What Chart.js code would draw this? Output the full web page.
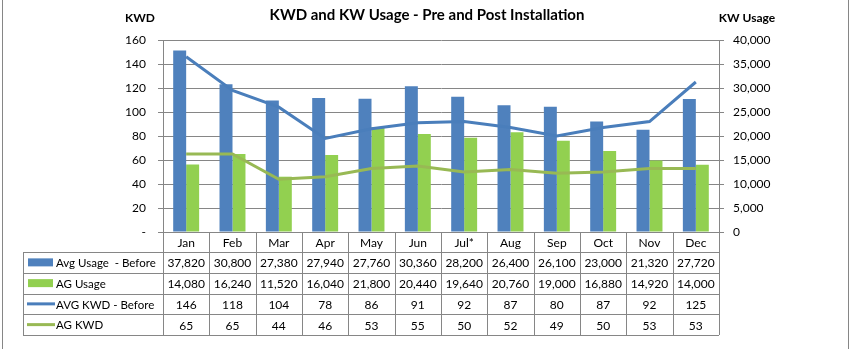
<!DOCTYPE html>
<html>
<head>
<meta charset="utf-8">
<script src="https://cdn.jsdelivr.net/npm/chart.js"></script>
<style>
  body { margin: 0; background: #fff; }
  canvas { display: block; }
</style>
</head>
<body>
<canvas id="grafico" width="852" height="349"></canvas>
<script>
// datos por mes
const meses = ["Jan", "Feb", "Mar", "Apr", "May", "Jun", "Jul*", "Aug", "Sep", "Oct", "Nov", "Dec"]
const usoAntes = [37820, 30800, 27380, 27940, 27760, 30360, 28200, 26400, 26100, 23000, 21320, 27720]
const usoAG = [14080, 16240, 11520, 16040, 21800, 20440, 19640, 20760, 19000, 16880, 14920, 14000]
const kwdAntes = [146, 118, 104, 78, 86, 91, 92, 87, 80, 87, 92, 125]
const kwdAG = [65, 65, 44, 46, 53, 55, 50, 52, 49, 50, 53, 53]

const AZUL = "#4F81BD"
const VERDE = "#92D050"
const AZUL_LINEA = "#4A7EBB"
const VERDE_LINEA = "#98B954"
const GRIS = "#868686"
const FUENTE = "Lato, 'Open Sans', sans-serif"

const filas = [
    { label: "Avg Usage  - Before", data: usoAntes, tipo: "barra", color: AZUL },
    { label: "AG Usage", data: usoAG, tipo: "barra", color: VERDE },
    { label: "AVG KWD - Before", data: kwdAntes, tipo: "linea", color: AZUL_LINEA },
    { label: "AG KWD", data: kwdAG, tipo: "linea", color: VERDE_LINEA },
]

function formato(n) {
    return n.toLocaleString("en-US")
}

// tabla de datos debajo del grafico y textos de cabecera
const tablaPlugin = {
    id: "tabla",
    afterDraw(chart) {
        const ctx = chart.ctx
        const x = chart.scales.x
        const area = chart.chartArea
        const izq = 23
        const ancho = (area.right - area.left) / meses.length
        const arriba = area.bottom
        const altoCab = 20
        const altoFila = 20.75
        const abajo = arriba + altoCab + altoFila * filas.length

        ctx.save()
        ctx.strokeStyle = GRIS
        ctx.lineWidth = 1

        // lineas horizontales
        ctx.beginPath()
        ctx.moveTo(area.left, arriba + 0.5)
        ctx.lineTo(area.right, arriba + 0.5)
        for (let i = 0; i <= filas.length; i++) {
            const y = Math.round(arriba + altoCab + i * altoFila) + 0.5
            ctx.moveTo(izq, y)
            ctx.lineTo(area.right, y)
        }
        // lineas verticales
        for (let i = 0; i <= meses.length; i++) {
            const xx = Math.round(area.left + i * ancho) + 0.5
            ctx.moveTo(xx, arriba)
            ctx.lineTo(xx, abajo)
        }
        ctx.moveTo(izq + 0.5, Math.round(arriba + altoCab))
        ctx.lineTo(izq + 0.5, abajo)
        // borde exterior
        ctx.moveTo(2.5, 0)
        ctx.lineTo(2.5, chart.height)
        ctx.moveTo(848.5, 0)
        ctx.lineTo(848.5, chart.height)
        ctx.stroke()

        ctx.fillStyle = "#000"
        ctx.font = "12px " + FUENTE
        ctx.textAlign = "center"
        ctx.textBaseline = "middle"
        meses.forEach((m, i) => {
            const cx = x.getPixelForValue(i)
            ctx.fillText(m, cx, arriba + altoCab / 2 + 1)
            filas.forEach((f, j) => {
                const cy = arriba + altoCab + (j + 0.5) * altoFila + 1
                ctx.fillText(formato(f.data[i]), cx, cy)
            })
        })

        // leyenda en la primera columna
        ctx.font = "11.5px " + FUENTE
        filas.forEach((f, j) => {
            const cy = arriba + altoCab + (j + 0.5) * altoFila
            ctx.textAlign = "left"
            ctx.fillStyle = "#000"
            ctx.fillText(f.label, 56, cy + 1)
            if (f.tipo === "barra") {
                ctx.fillStyle = f.color
                ctx.fillRect(28, cy - 4, 25, 8)
            } else {
                ctx.strokeStyle = f.color
                ctx.lineWidth = 3
                ctx.beginPath()
                ctx.moveTo(27, cy)
                ctx.lineTo(55, cy)
                ctx.stroke()
            }
        })

        // titulos
        ctx.fillStyle = "#000"
        ctx.textAlign = "center"
        ctx.font = "bold 15px " + FUENTE
        ctx.fillText("KWD and KW Usage - Pre and Post Installation", 427, 15)
        ctx.font = "bold 12px " + FUENTE
        ctx.fillText("KWD", 140, 18)
        ctx.fillText("KW Usage", 747, 18)
        ctx.restore()
    }
}

new Chart(document.getElementById("grafico"), {
    type: "bar",
    data: {
        labels: meses,
        datasets: [
            {
                type: "line",
                label: "AVG KWD - Before",
                data: kwdAntes,
                borderColor: AZUL_LINEA,
                borderWidth: 3,
                pointRadius: 0,
                tension: 0,
                yAxisID: "y",
                order: 1
            },
            {
                type: "line",
                label: "AG KWD",
                data: kwdAG,
                borderColor: VERDE_LINEA,
                borderWidth: 3,
                pointRadius: 0,
                tension: 0,
                yAxisID: "y",
                order: 0
            },
            {
                label: "Avg Usage  - Before",
                data: usoAntes,
                backgroundColor: AZUL,
                yAxisID: "y1",
                categoryPercentage: 0.56,
                barPercentage: 1,
                order: 2
            },
            {
                label: "AG Usage",
                data: usoAG,
                backgroundColor: VERDE,
                yAxisID: "y1",
                categoryPercentage: 0.56,
                barPercentage: 1,
                order: 2
            }
        ]
    },
    options: {
        responsive: false,
        animation: false,
        layout: { padding: { top: 40, bottom: 117, left: 0, right: 0 } },
        plugins: {
            legend: { display: false },
            tooltip: { enabled: false }
        },
        scales: {
            x: { display: false },
            y: {
                position: "left",
                min: 0,
                max: 160,
                ticks: {
                    stepSize: 20,
                    padding: 12,
                    color: "#000",
                    font: { family: FUENTE, size: 12 },
                    callback: (v) => v === 0 ? "-" : v
                },
                grid: { color: GRIS, tickLength: 5 },
                border: { color: GRIS },
                afterFit: (scale) => { scale.width = 163 }
            },
            y1: {
                position: "right",
                min: 0,
                max: 40000,
                ticks: {
                    stepSize: 5000,
                    padding: 9,
                    color: "#000",
                    font: { family: FUENTE, size: 12 },
                    callback: (v) => formato(v)
                },
                grid: { drawOnChartArea: false, color: GRIS, tickLength: 5 },
                border: { color: GRIS },
                afterFit: (scale) => { scale.width = 133 }
            }
        }
    },
    plugins: [tablaPlugin]
})
</script>
</body>
</html>
